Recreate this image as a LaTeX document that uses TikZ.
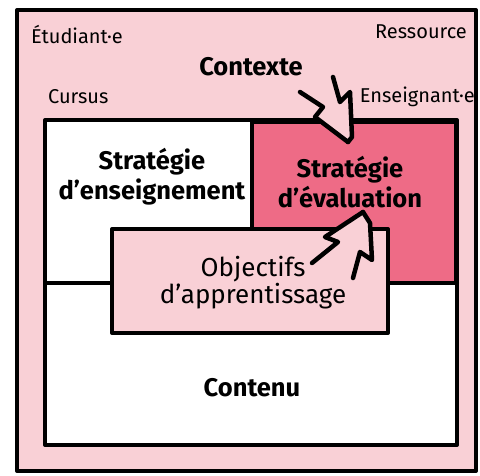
\documentclass[tikz,border=0pt]{standalone}
\usepackage{fontspec}
\setmainfont{Fira Sans}
\definecolor{bgpink}{RGB}{249,208,214}
\definecolor{evalred}{RGB}{238,107,134}
\begin{document}
\begin{tikzpicture}[x=1pt,y=-1pt,line join=round,line cap=round,
  box/.style={draw=black,line width=4pt},
  edge/.style={draw=black,line width=4.5pt},
  lbl/.style={font=\fontsize{20}{23}\selectfont,inner sep=0pt},
  big/.style={font=\bfseries\fontsize{25.5}{30}\selectfont,align=center,inner sep=0pt},
  mid/.style={font=\fontsize{26}{27}\selectfont,align=center,inner sep=0pt}]
\useasboundingbox (0,0) rectangle (480,475);
\fill[white] (0,0) rectangle (480,475);
% frames
\draw[box,fill=bgpink] (17,10) rectangle (476,471);
\draw[box,fill=white] (45,120) rectangle (457,445);
\draw[box,fill=evalred] (252,122) rectangle (456,283);
\draw[box] (45,283) -- (457,283);
\draw[box,fill=bgpink] (112,229) rectangle (388,333);
% arrow from Contexte
\fill[bgpink] (300,92) -- (323,107) -- (315,117) -- (348,142) -- (352,137) -- (350,92) -- (340,102) -- (333,77) -- cycle;
\draw[edge] (300,92) -- (323,107) -- (315,117) -- (348,142);
\draw[edge] (333,77) -- (340,102) -- (350,92) -- (352,137) -- (348,142);
% arrow from Objectifs
\fill[bgpink] (312,263) -- (338,242) -- (325,237) -- (363,212) -- (370,223) -- (372,260) -- (360,252) -- (353,278) -- cycle;
\draw[edge] (312,263) -- (338,242) -- (325,237) -- (363,212);
\draw[edge] (353,278) -- (360,252) -- (372,260) -- (370,223) -- (363,212);
% labels
\node[lbl,anchor=west] (etu) at (31,35) {Étudiant·e};
\node[lbl,anchor=east] (res) at (467,32) {Ressource};
\node[lbl,anchor=west] (cur) at (48,97) {Cursus};
\node[lbl,anchor=east] (ens) at (475,97) {Enseignant·e};
\node[big] (ctx) at (251,67) {Contexte};
\node[big] (se) at (152,177) {Stratégie\\d’enseignement};
\node[big] (sv) at (350,182) {Stratégie\\d’évaluation};
\node[mid] (obj) at (253,283) {Objectifs\\d’apprentissage};
\node[big] (cont) at (252,388) {Contenu};
\end{tikzpicture}
\end{document}
